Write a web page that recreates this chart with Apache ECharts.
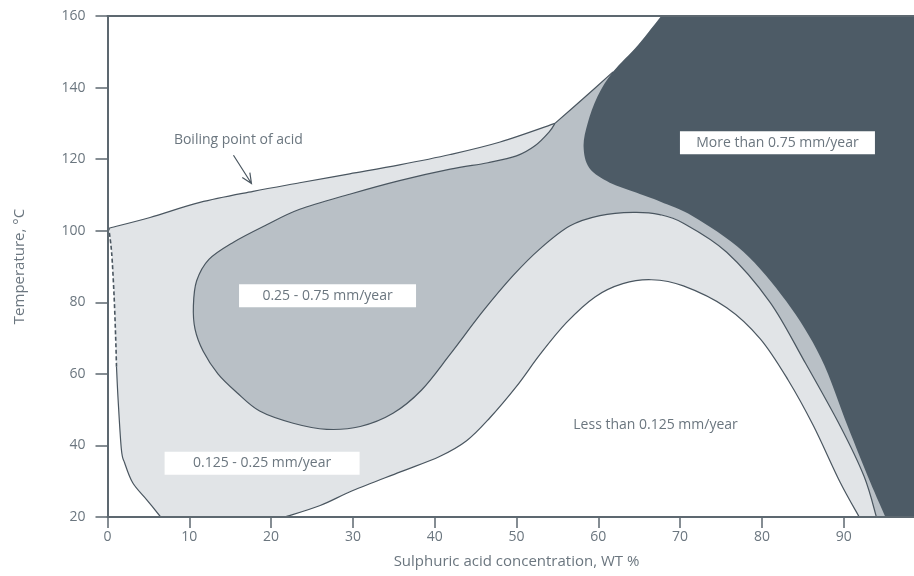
<!DOCTYPE html>
<html>
<head>
<meta charset="utf-8">
<script src="https://cdn.jsdelivr.net/npm/echarts@6/dist/echarts.min.js"></script>
<style>
  html, body { margin: 0; padding: 0; background: #ffffff; }
  #chart { width: 914px; height: 576px; }
</style>
</head>
<body>
<div id="chart"></div>
<script>
// Iso-corrosion diagram in sulphuric acid.
// Every boundary is a list of [concentration (wt %), temperature (°C)] points.

// Boiling point of the acid (lower smooth part, then the steep part up to the dark zone)
const boilingLower = [[0.15, 100.7], [5.2, 103.7], [11.3, 107.9], [17.8, 111.0], [23.5, 113.4],
  [29.6, 115.9], [35.7, 118.4], [41.9, 121.3], [48.0, 124.8], [54.7, 130.0]];
const boilingUpper = [[54.7, 130.0], [58.2, 137.0], [61.8, 144.4], [64.9, 152.0], [67.7, 160.0]];

// Left limit of the 0.125 - 0.25 zone (solid at low temperature, dashed above)
const leftSolid = [[6.5, 20], [4.8, 24.8], [3.1, 29.5], [2.1, 35.1], [1.7, 38.8], [1.3, 52.7], [1.1, 62.0]];
const leftDashed = [[1.1, 62.0], [1.0, 70.0], [0.8, 82.0], [0.5, 94.0], [0.15, 100.7]];

// 0.25 mm/year iso-line: round pocket on the left, then the band towards high concentration
const mediumEdge = [[54.7, 130.0], [54.0, 127.6], [52.3, 123.8], [50.0, 120.9], [46.5, 119.0],
  [41.9, 117.2], [35.7, 114.0], [29.6, 110.2], [23.5, 106.0], [19.4, 101.6], [15.4, 96.8],
  [12.4, 92.0], [10.9, 86.0], [10.5, 79.0], [10.7, 72.5], [11.7, 66.3], [13.5, 60.0], [15.8, 54.8],
  [18.6, 49.6], [22.7, 46.2], [26.8, 44.5], [30.9, 45.3], [34.9, 49.0], [38.4, 55.5],
  [41.9, 65.5], [45.9, 77.5], [49.6, 87.5], [52.9, 95.0], [56.5, 101.3], [60.2, 104.2],
  [64.3, 105.1], [67.5, 104.5], [70.4, 102.1], [75.7, 94.0], [81.0, 80.0], [85.2, 63.5],
  [89.6, 45.3], [92.5, 31.3], [94.0, 20.0]];

// 0.75 mm/year limit (edge of the dark zone)
const darkEdge = [[67.7, 160.0], [64.9, 152.0], [61.8, 144.4], [59.9, 137.5], [58.7, 130.0],
  [58.2, 123.5], [58.9, 117.5], [61.4, 113.4], [64.7, 110.6], [67.6, 108.1],
  [71.6, 104.0], [77.7, 94.2], [83.0, 80.2], [87.2, 64.5], [90.5, 45.3], [93.2, 30.0], [95.1, 20.0]];

// 0.125 mm/year iso-line (edge of the white zone)
const whiteEdge = [[21.7, 20.0], [26.0, 23.2], [30.0, 27.4], [35.8, 32.6], [40.6, 36.9],
  [43.9, 41.3], [46.7, 47.6], [50.0, 56.5], [52.9, 65.5], [56.1, 74.3], [59.6, 81.5],
  [63.0, 85.2], [66.5, 86.3], [70.4, 84.6], [75.7, 78.5], [79.8, 69.8], [83.2, 58.3],
  [86.3, 45.5], [89.5, 30.0], [91.9, 20.0]];

// Zone labels and the boiling-point note
const labelTexts = ['More than 0.75 mm/year', '0.25 - 0.75 mm/year', '0.125 - 0.25 mm/year',
  'Less than 0.125 mm/year', 'Boiling point of acid'];
const labelX = [81.9, 26.9, 18.9, 67.0, 16.0];
const labelY = [124.6, 81.8, 35.0, 45.8, 125.3];
const labelBoxed = [true, true, true, false, false];

// Arrow from the note to the boiling curve
const arrowFrom = [15.4, 121.1];
const arrowTo = [17.6, 113.2];

// Axis ticks
const xTicks = [0, 10, 20, 30, 40, 50, 60, 70, 80, 90];
const yTicks = [20, 40, 60, 80, 100, 120, 140, 160];

const X_MIN = 0, X_MAX = 100, Y_MIN = 20, Y_MAX = 160;

const C_LIGHT = '#e1e4e7';
const C_MEDIUM = '#b9c0c6';
const C_DARK = '#4d5b66';
const C_LINE = '#4a5660';
const C_AXIS = '#5d6870';
const C_TEXT = '#6b767f';
const FONT = "'Open Sans', 'Noto Sans', sans-serif";

// Path helpers: a shape is a list of pieces, each smooth (curve) or straight (corners)
function toPx(api, pts) { return pts.map(p => api.coord(p)); }

function piecePath(px, smooth, start) {
  let d = (start ? 'M' : 'L') + px[0][0] + ',' + px[0][1];
  for (let i = 0; i < px.length - 1; i++) {
    const p1 = px[i], p2 = px[i + 1];
    if (!smooth) { d += 'L' + p2[0] + ',' + p2[1]; continue; }
    const p0 = px[i - 1] || p1, p3 = px[i + 2] || p2;
    const c1x = p1[0] + (p2[0] - p0[0]) / 6, c1y = p1[1] + (p2[1] - p0[1]) / 6;
    const c2x = p2[0] - (p3[0] - p1[0]) / 6, c2y = p2[1] - (p3[1] - p1[1]) / 6;
    d += 'C' + c1x + ',' + c1y + ',' + c2x + ',' + c2y + ',' + p2[0] + ',' + p2[1];
  }
  return d;
}

function shapePath(api, pieces, close) {
  let d = '';
  pieces.forEach((pc, i) => { d += piecePath(toPx(api, pc.pts), pc.smooth, i === 0); });
  return close ? d + 'Z' : d;
}

function rev(a) { return a.slice().reverse(); }

// Filled zones, back to front
const zones = [
  { fill: C_LIGHT, pieces: [
    { pts: leftSolid.concat(leftDashed.slice(1)), smooth: true },
    { pts: boilingLower, smooth: true },
    { pts: boilingUpper, smooth: true },
    { pts: [[67.7, Y_MAX], [X_MAX, Y_MAX], [X_MAX, Y_MIN], [6.5, Y_MIN]], smooth: false }
  ] },
  { fill: C_MEDIUM, pieces: [
    { pts: mediumEdge, smooth: true },
    { pts: [[94.0, Y_MIN], [X_MAX, Y_MIN], [X_MAX, Y_MAX], [67.7, Y_MAX]], smooth: false },
    { pts: rev(boilingUpper), smooth: true }
  ] },
  { fill: C_DARK, pieces: [
    { pts: darkEdge, smooth: true },
    { pts: [[95.1, Y_MIN], [X_MAX, Y_MIN], [X_MAX, Y_MAX]], smooth: false }
  ] },
  { fill: '#ffffff', pieces: [
    { pts: whiteEdge, smooth: true }
  ] }
];

// Outlines drawn over the fills
const outlines = [
  { pts: boilingLower, dash: null, width: 1.2 },
  { pts: boilingUpper.slice(0, 3), dash: null, width: 1.2 },
  { pts: mediumEdge, dash: null, width: 1.2 },
  { pts: whiteEdge, dash: null, width: 1.2 },
  { pts: leftSolid, dash: null, width: 1.2 },
  { pts: leftDashed, dash: [4, 2.5], width: 1.6 }
];

function renderZones(params, api) {
  return {
    type: 'group',
    children: zones.map(z => ({
      type: 'path',
      shape: { pathData: shapePath(api, z.pieces, true) },
      style: { fill: z.fill, stroke: null }
    }))
  };
}

function renderOutlines(params, api) {
  const children = outlines.map(o => ({
    type: 'path',
    shape: { pathData: shapePath(api, [{ pts: o.pts, smooth: true }], false) },
    style: { fill: null, stroke: C_LINE, lineWidth: o.width, lineDash: o.dash }
  }));
  // arrow of the boiling-point note
  const a = api.coord(arrowFrom), b = api.coord(arrowTo);
  const ang = Math.atan2(b[1] - a[1], b[0] - a[0]);
  const hl = 11, spread = 0.42;
  const w1 = [b[0] - hl * Math.cos(ang - spread), b[1] - hl * Math.sin(ang - spread)];
  const w2 = [b[0] - hl * Math.cos(ang + spread), b[1] - hl * Math.sin(ang + spread)];
  children.push({
    type: 'path',
    shape: { pathData: 'M' + a + 'L' + b + 'M' + w1 + 'L' + b + 'L' + w2 },
    style: { fill: null, stroke: C_LINE, lineWidth: 1.2 }
  });
  return { type: 'group', children: children };
}

const boxWidths = [195, 177, 195, 0, 0];

function renderLabels(params, api) {
  const children = [];
  labelTexts.forEach((t, i) => {
    const c = api.coord([labelX[i], labelY[i]]);
    if (labelBoxed[i]) {
      children.push({
        type: 'rect',
        shape: { x: c[0] - boxWidths[i] / 2, y: c[1] - 11.5, width: boxWidths[i], height: 23 },
        style: { fill: '#ffffff' }
      });
    }
    children.push({
      type: 'text',
      x: c[0], y: c[1],
      style: {
        text: t, fill: C_TEXT, fontSize: 14, fontFamily: FONT,
        align: 'center', verticalAlign: 'middle',
        textAlign: 'center', textVerticalAlign: 'middle'
      }
    });
  });
  return { type: 'group', children: children };
}

const chart = echarts.init(document.getElementById('chart'), null, { renderer: 'canvas' });

chart.setOption({
  animation: false,
  backgroundColor: '#ffffff',
  grid: { left: 107.5, top: 16, width: 818, height: 501, containLabel: false, outerBoundsMode: 'none' },
  xAxis: [{
    type: 'value', min: X_MIN, max: X_MAX, interval: 10, z: 10,
    name: 'Sulphuric acid concentration, WT %', nameLocation: 'middle', nameGap: 37,
    nameTextStyle: { color: C_TEXT, fontSize: 15, fontFamily: FONT },
    axisLine: { show: true, onZero: false, lineStyle: { color: C_AXIS, width: 2 } },
    axisTick: { show: true, length: 11, lineStyle: { color: C_AXIS, width: 1.5 } },
    axisLabel: {
      color: C_TEXT, fontSize: 14, fontFamily: FONT, margin: 13, showMaxLabel: false,
      formatter: v => (xTicks.indexOf(v) >= 0 ? String(v) : '')
    },
    splitLine: { show: false }
  }, {
    type: 'value', position: 'top', min: X_MIN, max: X_MAX, z: 10,
    axisLine: { show: true, onZero: false, lineStyle: { color: C_AXIS, width: 2 } },
    axisTick: { show: false }, axisLabel: { show: false }, splitLine: { show: false }
  }],
  yAxis: {
    type: 'value', min: Y_MIN, max: Y_MAX, interval: 20, z: 10,
    name: 'Temperature, °C', nameLocation: 'middle', nameGap: 80,
    nameTextStyle: { color: C_TEXT, fontSize: 15, fontFamily: FONT },
    axisLine: { show: true, onZero: false, lineStyle: { color: C_AXIS, width: 2 } },
    axisTick: { show: true, length: 12, lineStyle: { color: C_AXIS, width: 1.5 } },
    axisLabel: {
      color: C_TEXT, fontSize: 14, fontFamily: FONT, margin: 22,
      formatter: v => (yTicks.indexOf(v) >= 0 ? String(v) : '')
    },
    splitLine: { show: false }
  },
  series: [
    { type: 'custom', name: 'zones', silent: true, z: 1, data: [[X_MIN, Y_MIN]], renderItem: renderZones },
    { type: 'custom', name: 'iso-lines', silent: true, z: 2, data: [[X_MIN, Y_MIN]], renderItem: renderOutlines },
    { type: 'custom', name: 'labels', silent: true, z: 3, data: [[X_MIN, Y_MIN]], renderItem: renderLabels }
  ]
});
</script>
</body>
</html>
